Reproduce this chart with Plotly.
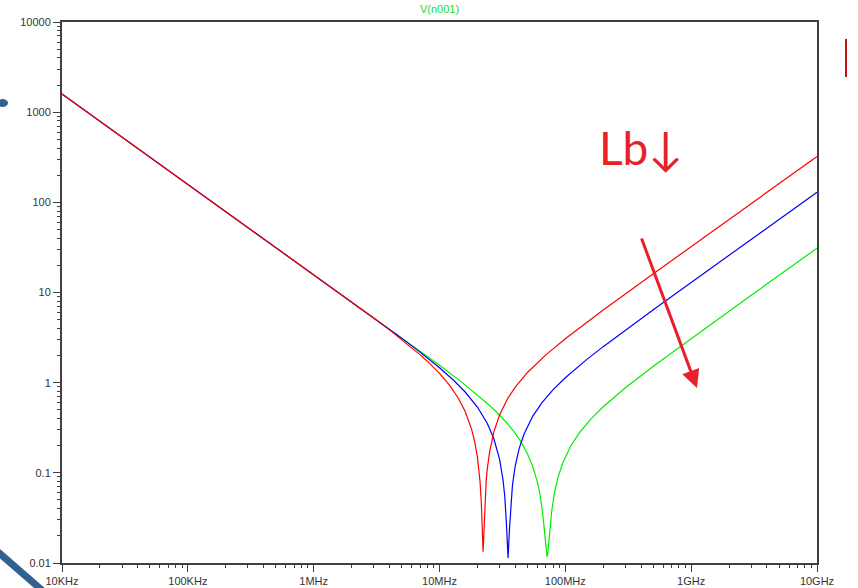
import plotly.graph_objects as go

# ---- data (frequency in Hz, |V| magnitude) ----
red_f = [1e4, 1e5, 1e6, 2e6, 3e6, 4e6, 5e6, 6e6, 7e6, 8e6, 9e6, 1e7, 1.2e7, 1.4e7, 1.6e7,
         1.8e7, 1.9e7, 2.0e7, 2.1e7, 2.15e7, 2.22e7, 2.28e7, 2.35e7, 2.4e7, 2.5e7, 2.7e7,
         3.0e7, 3.5e7, 4.0e7, 5.0e7, 7.0e7, 1e8, 2e8, 5e8, 1e9, 3e9, 1e10]
red_v = [1591.5, 159.15, 15.88, 7.893, 5.208, 3.850, 3.022, 2.459, 2.048, 1.731, 1.477, 1.269,
         0.938, 0.685, 0.478, 0.303, 0.224, 0.150, 0.080, 0.046, 0.0133, 0.038, 0.082, 0.112,
         0.170, 0.283, 0.438, 0.675, 0.894, 1.297, 2.034, 3.071, 6.379, 16.12, 32.28, 96.88, 322.96]

blue_f = [1e4, 1e5, 1e6, 2e6, 3e6, 5e6, 7e6, 1e7, 1.3e7, 1.6e7, 2.0e7, 2.4e7, 2.7e7, 3.0e7,
          3.2e7, 3.3e7, 3.4e7, 3.507e7, 3.6e7, 3.7e7, 3.8e7, 4.0e7, 4.3e7, 4.7e7, 5.5e7,
          6.5e7, 8.0e7, 1e8, 1.5e8, 2e8, 3e8, 5e8, 1e9, 3e9, 1e10]
blue_v = [1591.5, 159.15, 15.90, 7.932, 5.266, 3.118, 2.183, 1.462, 1.056, 0.788, 0.537, 0.352,
          0.240, 0.142, 0.083, 0.055, 0.028, 0.0114, 0.024, 0.049, 0.073, 0.120, 0.187, 0.269,
          0.423, 0.596, 0.836, 1.135, 1.835, 2.509, 3.830, 6.440, 12.93, 38.83, 129.43]

green_f = [1e4, 1e5, 1e6, 3e6, 5e6, 7e6, 1e7, 1.5e7, 2e7, 2.5e7, 3e7, 3.5e7, 4e7, 4.5e7, 5e7,
           5.5e7, 6e7, 6.3e7, 6.6e7, 6.8e7, 7.0e7, 7.16e7, 7.3e7, 7.5e7, 7.8e7, 8.2e7, 8.7e7,
           9.5e7, 1.1e8, 1.3e8, 1.6e8, 2e8, 3e8, 5e8, 1e9, 3e9, 1e10]
green_v = [1591.5, 159.15, 15.91, 5.296, 3.168, 2.252, 1.561, 1.014, 0.734, 0.559, 0.438, 0.346,
           0.274, 0.214, 0.163, 0.118, 0.079, 0.057, 0.036, 0.025, 0.015, 0.0117, 0.014, 0.021,
           0.038, 0.060, 0.087, 0.127, 0.197, 0.281, 0.397, 0.541, 0.878, 1.520, 3.088, 9.306, 31.04]

x_tickvals = [1e4, 1e5, 1e6, 1e7, 1e8, 1e9, 1e10]
x_ticktext = ["10KHz", "100KHz", "1MHz", "10MHz", "100MHz", "1GHz", "10GHz"]
y_tickvals = [0.01, 0.1, 1, 10, 100, 1000, 10000]
y_ticktext = ["0.01", "0.1", "1", "10", "100", "1000", "10000"]

# ---- layout geometry (pixels) ----
W, H = 858, 588
L, R, T, B = 62, 41, 22, 25
PW, PH = W - L - R, H - T - B


def px(x):
    return (x - L) / PW


def py(y):
    return (H - B - y) / PH


x_minor = [k * 10 ** d for d in range(4, 10) for k in range(2, 10)]
y_minor = [k * 10 ** d for d in range(-2, 4) for k in range(2, 10)]

fig = go.Figure()
fig.add_trace(go.Scatter(x=green_f, y=green_v, mode="lines", line=dict(color="#00ee00", width=1.2)))
fig.add_trace(go.Scatter(x=blue_f, y=blue_v, mode="lines", line=dict(color="#0000ff", width=1.2)))
fig.add_trace(go.Scatter(x=red_f, y=red_v, mode="lines", line=dict(color="#ff0000", width=1.2)))

axis_common = dict(
    showgrid=False, zeroline=False, showline=True, linecolor="#404040", linewidth=2,
    mirror=True, ticks="outside", ticklen=7, tickwidth=1, tickcolor="#404040",
    automargin=False,
    tickfont=dict(family="Liberation Sans, Arial, sans-serif", size=11, color="#333333"),
)

fig.update_xaxes(type="log", range=[4, 10], tickvals=x_tickvals, ticktext=x_ticktext,
                 minor=dict(tickvals=x_minor, ticks="outside", ticklen=3, tickcolor="#404040"),
                 ticklabelstandoff=0, **axis_common)
fig.update_yaxes(type="log", range=[-2, 4], tickvals=y_tickvals, ticktext=y_ticktext,
                 minor=dict(tickvals=y_minor, ticks="outside", ticklen=3, tickcolor="#404040"),
                 **axis_common)

shapes = [
    # blue slide decorations on the left
    dict(type="circle", xref="paper", yref="paper", x0=px(-3), x1=px(8), y0=py(107), y1=py(99),
         fillcolor="#33618f", line=dict(width=0)),
    dict(type="line", xref="paper", yref="paper", x0=px(-2), y0=py(552), x1=px(44), y1=py(592),
         line=dict(color="#33618f", width=7)),
    # red mark at right edge
    dict(type="line", xref="paper", yref="paper", x0=px(846), y0=py(39), x1=px(846), y1=py(77),
         line=dict(color="#c01010", width=2)),
]

annotations = [
    dict(text="V(n001)", xref="paper", yref="paper", x=0.5, y=1, yanchor="bottom", xanchor="center",
         yshift=5, showarrow=False,
         font=dict(family="Liberation Sans, Arial, sans-serif", size=11, color="#22dd22")),
    dict(text="Lb↓", xref="paper", yref="paper", x=px(641), y=py(148), xanchor="center",
         yanchor="middle", showarrow=False,
         font=dict(family="Lato, sans-serif", size=46, color="#e8202a")),
    dict(text="", xref="paper", yref="paper", x=px(697), y=py(388), ax=641 - 697, ay=237 - 388,
         showarrow=True, arrowhead=2, arrowsize=1.2, arrowwidth=3, arrowcolor="#e8202a"),
]

fig.update_layout(
    width=W, height=H, margin=dict(l=L, r=R, t=T, b=B),
    paper_bgcolor="white", plot_bgcolor="white", showlegend=False,
    shapes=shapes, annotations=annotations,
)

fig.write_html("out.html")
